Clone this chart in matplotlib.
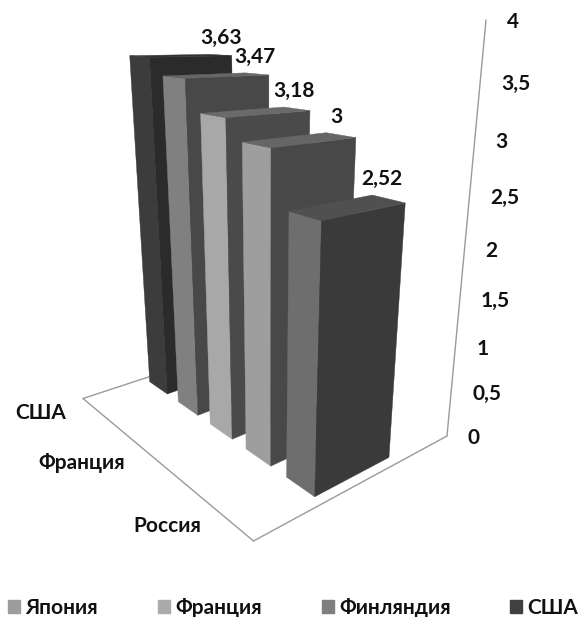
import numpy as np
import matplotlib
matplotlib.use("Agg")
import matplotlib.pyplot as plt
from matplotlib.patches import Polygon, Patch

categories = ["США", "Финляндия", "Франция", "Япония", "Россия"]
values = [3.63, 3.47, 3.18, 3.0, 2.52]
value_labels = ["3,63", "3,47", "3,18", "3", "2,52"]
axis_ticks = [0, 0.5, 1, 1.5, 2, 2.5, 3, 3.5, 4]
axis_tick_labels = ["0", "0,5", "1", "1,5", "2", "2,5", "3", "3,5", "4"]
shown_categories = ["США", "Франция", "Россия"]
legend_names = ["Япония", "Франция", "Финляндия", "США"]
legend_colors = ["#9c9c9c", "#ababab", "#7f7f7f", "#404040"]
left_colors = ["#3c3c3c", "#808080", "#a8a8a8", "#9e9e9e", "#6e6e6e"]
front_colors = ["#2b2b2b", "#484848", "#4a4a4a", "#484848", "#3a3a3a"]
top_colors = ["#333333", "#666666", "#6a6a6a", "#666666", "#505050"]

FONT = ["Lato", "DejaVu Sans"]
FS = 15

# Camera: fitted from the frame of the 3D box and the vanishing point of the verticals
L, F, R, TOP = (83, 398.5), (253.5, 541), (447, 436), (486, 20)
VP_CAT, VP_DEP, VP_UP = (-370, 18.5), (1180, 38), (269, 2331)


def hom(p):
    return np.array([p[0], p[1], 1.0])


B = np.cross(np.cross(hom(L), hom(VP_DEP)), np.cross(hom(R), hom(VP_CAT)))
B = B[:2] / B[2]
world = [(0, 0, 0, 1), (1, 0, 0, 1), (1, 1, 0, 1), (0, 1, 0, 1), (1, 1, 4, 1), (0, 0, 1, 0)]
image = [L, F, R, B, TOP, VP_UP]
rows = []
for X, (u, v) in zip(world, image):
    X = np.array(X, float)
    rows.append(np.r_[X, 0 * X, -u * X])
    rows.append(np.r_[0 * X, X, -v * X])
P = np.linalg.svd(np.array(rows))[2][-1].reshape(3, 4)


def proj(x, y, z):
    q = P @ np.array([x, y, z, 1.0])
    return q[:2] / q[2]


fig = plt.figure(figsize=(5.81, 6.17), dpi=100)
ax = fig.add_axes([0, 0, 1, 1])
ax.set_xlim(0, 581)
ax.set_ylim(617, 0)
ax.axis("off")

frame = "#9a9a9a"
for a, b in [((0, 0, 0), (1, 0, 0)), ((1, 0, 0), (1, 1, 0)), ((0, 0, 0), (0, 1, 0)), ((1, 1, 0), (1, 1, 4))]:
    pa, pb = proj(*a), proj(*b)
    ax.plot([pa[0], pb[0]], [pa[1], pb[1]], color=frame, lw=1.0, zorder=1, solid_capstyle="round")

n = len(categories)
dx, dy = 0.125, 0.39
y0, y1 = 0.31, 0.31 + dy
for i, (name, val) in enumerate(zip(categories, values)):
    x0, x1 = (i + 0.5) / n - dx / 2, (i + 0.5) / n + dx / 2
    zo = 2 + i
    faces = [
        ([(x0, y0, 0), (x1, y0, 0), (x1, y0, val), (x0, y0, val)], left_colors[i]),
        ([(x1, y0, 0), (x1, y1, 0), (x1, y1, val), (x1, y0, val)], front_colors[i]),
        ([(x0, y0, val), (x1, y0, val), (x1, y1, val), (x0, y1, val)], top_colors[i]),
    ]
    for pts, col in faces:
        ax.add_patch(Polygon([proj(*p) for p in pts], closed=True, fc=col, ec=col, lw=0.3, zorder=zo))
    px, py = proj(x0, y1, val)
    ax.annotate(value_labels[i], (px, py), xytext=(10, 16), textcoords="offset pixels",
                ha="center", va="center", fontsize=FS, fontweight="bold", family=FONT,
                color="#111111", zorder=20)

for t, lab in zip(axis_ticks, axis_tick_labels):
    px, py = proj(1, 1, t)
    ax.annotate(lab, (px, py), xytext=(21, -2), textcoords="offset pixels", ha="left", va="center",
                fontsize=FS, fontweight="bold", family=FONT, color="#111111")

for name in shown_categories:
    i = categories.index(name)
    px, py = proj((i + 0.5) / n, 0, 0)
    ax.annotate(name, (px, py), xytext=(-30, -4), textcoords="offset pixels", ha="right", va="center",
                fontsize=FS, fontweight="bold", family=FONT, color="#111111")

handles = [Patch(fc=c, ec=c) for c in legend_colors]
leg = ax.legend(handles, legend_names, loc="lower left", bbox_to_anchor=(2 / 581, -7 / 617), ncols=4,
                frameon=False, prop={"family": FONT, "weight": "bold", "size": FS},
                handlelength=0.58, handleheight=0.58, handletextpad=0.25, columnspacing=2.87,
                borderaxespad=0.0, borderpad=0.3)
for t in leg.get_texts():
    t.set_color("#111111")

fig.savefig("out.png", dpi=100)
